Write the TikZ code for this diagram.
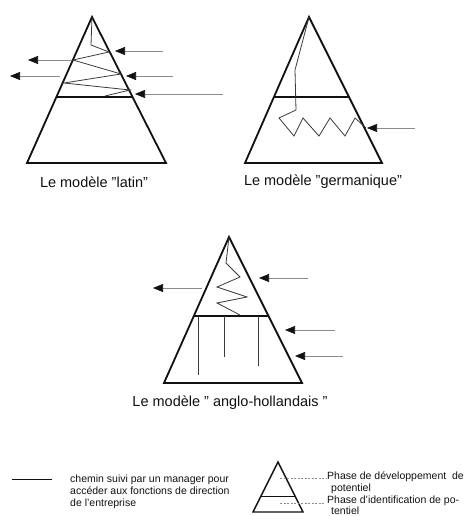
\documentclass[tikz,border=0pt]{standalone}
\usepackage{fontspec}
\setmainfont{Liberation Sans}
\usepackage{tikz}
\usetikzlibrary{arrows.meta, calc}
\definecolor{cInk}  {HTML}{111111}
\definecolor{cPath} {HTML}{3A3A3A}
\definecolor{cShaft}{HTML}{8C8C8C}
\newcommand{\dq}{{\char34}}
\tikzset{
  pyramid/.style={draw=cInk, line width=1.8pt, line join=miter},
  phaseline/.style={draw=cInk, line width=1.3pt},
  career/.style={draw=cPath, line width=0.8pt, line join=miter},
  flow/.style={draw=cShaft, line width=0.6pt, -{Triangle[length=10pt, width=8pt, color=cInk]}},
  leader/.style={draw=cShaft, line width=0.5pt, dash pattern=on 2pt off 1.5pt},
  caption/.style={font=\fontsize{14.5}{17}\selectfont, text=cInk, inner sep=0pt},
  legendtext/.style={font=\fontsize{10.5}{12}\selectfont, text=cInk, align=left,
                     inner sep=0pt, anchor=north west},
}
\begin{document}
\begin{tikzpicture}[x=1pt, y=-1pt]
  \useasboundingbox (0,0) rectangle (467,516);
  % le modele latin
  \coordinate (lt) at (92,17);
  \coordinate (ll) at (27,163);
  \coordinate (lr) at (166,163);
  \coordinate (lm-w) at ($(lt)!0.548!(ll)$);
  \coordinate (lm-e) at ($(lt)!0.548!(lr)$);
  \draw[pyramid] (lt) -- (ll) -- (lr) -- cycle;
  \draw[phaseline] (lm-w) -- (lm-e);
  \draw[career] (lt) -- (91,45) -- (109,52) -- (73,60) -- (121,74) -- (64,83)
    -- (130,90) -- (105,96);
  \coordinate (lat-in1) at (163,51);  \coordinate (lat-in1t) at (115,51);
  \coordinate (lat-in2) at (173,76);  \coordinate (lat-in2t) at (126,76);
  \coordinate (lat-in3) at (223,94);  \coordinate (lat-in3t) at (135,94);
  \coordinate (lat-out1) at (72,60);  \coordinate (lat-out1t) at (28,60);
  \coordinate (lat-out2) at (60,76);  \coordinate (lat-out2t) at (10,76);
  \draw[flow] (lat-in1) -- (lat-in1t);
  \draw[flow] (lat-in2) -- (lat-in2t);
  \draw[flow] (lat-in3) -- (lat-in3t);
  \draw[flow] (lat-out1) -- (lat-out1t);
  \draw[flow] (lat-out2) -- (lat-out2t);
  \node[caption] (latin) at (94,182) {Le modèle \dq latin\dq};

  % le modele germanique
  \coordinate (gt) at (309,17);
  \coordinate (gl) at (245,163);
  \coordinate (gr) at (382,163);
  \coordinate (gm-w) at ($(gt)!0.548!(gl)$);
  \coordinate (gm-e) at ($(gt)!0.548!(gr)$);
  \draw[pyramid] (gt) -- (gl) -- (gr) -- cycle;
  \draw[phaseline] (gm-w) -- (gm-e);
  \draw[career] (gt) -- (295,70) -- (296,110) -- (279,118) -- (294,136) -- (303,118)
    -- (319,136) -- (330,118) -- (345,136) -- (355,118) -- (366,128);
  \coordinate (ger-in) at (415,128);  \coordinate (ger-int) at (367,128);
  \draw[flow] (ger-in) -- (ger-int);
  \node[caption] (germ) at (323,182) {Le modèle \dq germanique\dq};

  % le modele anglo-hollandais
  \coordinate (at) at (229,237);
  \coordinate (al) at (164,383);
  \coordinate (ar) at (302,383);
  \coordinate (am-w) at ($(at)!0.541!(al)$);
  \coordinate (am-e) at ($(at)!0.541!(ar)$);
  \draw[pyramid] (at) -- (al) -- (ar) -- cycle;
  \draw[phaseline] (am-w) -- (am-e);
  \draw[career] (at) -- (226,263) -- (240,277) -- (217,287) -- (247,297) -- (217,303)
    -- (240,315);
  \draw[career] (198,316) -- (198,375);
  \draw[career] (224,316) -- (224,357);
  \draw[career] (258,316) -- (258,366);
  \coordinate (ang-in1) at (308,278);  \coordinate (ang-in1t) at (259,278);
  \coordinate (ang-in2) at (335,330);  \coordinate (ang-in2t) at (285,330);
  \coordinate (ang-in3) at (343,356);  \coordinate (ang-in3t) at (295,356);
  \coordinate (ang-out) at (202,288);  \coordinate (ang-outt) at (153,288);
  \draw[flow] (ang-in1) -- (ang-in1t);
  \draw[flow] (ang-in2) -- (ang-in2t);
  \draw[flow] (ang-in3) -- (ang-in3t);
  \draw[flow] (ang-out) -- (ang-outt);
  \node[caption] (anglo) at (230,403) {Le modèle \dq{} anglo-hollandais \dq};

  % legende
  \coordinate (key-a) at (12,479);
  \coordinate (key-b) at (52,479);
  \draw[draw=cInk, line width=0.9pt] (key-a) -- (key-b);
  \node[legendtext] (keytxt) at (70,475)
    {chemin suivi par un manager pour\\accéder aux fonctions de direction\\de l'entreprise};
  \coordinate (kt) at (278,462);
  \coordinate (kl) at (253,512);
  \coordinate (kr) at (303,512);
  \draw[pyramid, line width=1.4pt] (kt) -- (kl) -- (kr) -- cycle;
  \draw[phaseline, line width=1pt] ($(kt)!0.68!(kl)$) -- ($(kt)!0.68!(kr)$);
  \coordinate (dev-a) at (280,478);  \coordinate (dev-b) at (326,478);
  \coordinate (ide-a) at (280,503);  \coordinate (ide-b) at (325,503);
  \draw[leader] (dev-a) -- (dev-b);
  \draw[leader] (ide-a) -- (ide-b);
  \node[legendtext] (devtxt) at (327,472)
    {Phase de développement\ \ de\\\hspace{4pt}potentiel};
  \node[legendtext, font=\fontsize{10.5}{9.5}\selectfont] (idetxt) at (327,496)
    {Phase d'identification de po-\\\hspace{4pt}tentiel};
\end{tikzpicture}
\end{document}
